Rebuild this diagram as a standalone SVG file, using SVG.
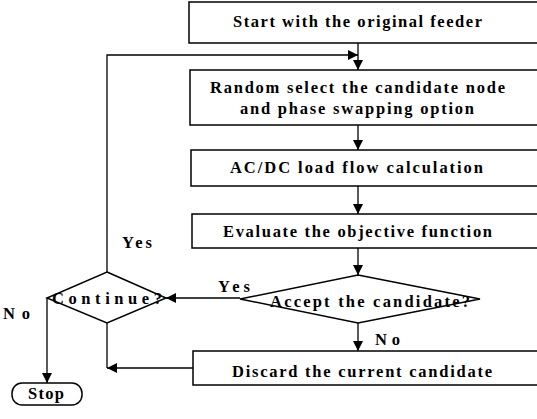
<svg xmlns="http://www.w3.org/2000/svg" width="537" height="419" viewBox="0 0 537 419">
<defs>
<style>
.box{fill:#fff;stroke:#000;stroke-width:1.5}
.ln{fill:none;stroke:#000;stroke-width:1.3}
.t{font-family:"Liberation Serif","Times New Roman",serif;font-size:16.5px;font-weight:bold;fill:#000}
</style>
<marker id="ah" viewBox="0 0 10 10" refX="10" refY="5" markerWidth="10" markerHeight="10" markerUnits="userSpaceOnUse" orient="auto">
<path d="M0,0 L10,5 L0,10 Z" fill="#000"/>
</marker>
</defs>
<rect width="537" height="419" fill="#fff"/>
<g id="connectors">
<path class="ln" d="M358,43 V70" marker-end="url(#ah)"/>
<path class="ln" d="M107,272 V55 H358" marker-end="url(#ah)"/>
<path class="ln" d="M358,125 V150" marker-end="url(#ah)"/>
<path class="ln" d="M358,186 V214" marker-end="url(#ah)"/>
<path class="ln" d="M358,248 V275" marker-end="url(#ah)"/>
<path class="ln" d="M240,298 H166" marker-end="url(#ah)"/>
<path class="ln" d="M358,323 V351" marker-end="url(#ah)"/>
<path class="ln" d="M47,298 V383" marker-end="url(#ah)"/>
<path class="ln" d="M107,323 V368"/>
<path class="ln" d="M193,368 H107" marker-end="url(#ah)"/>
<text class="t" x="122" y="248" textLength="30" lengthAdjust="spacing">Yes</text>
<text class="t" x="218" y="292" textLength="32" lengthAdjust="spacing">Yes</text>
<text class="t" x="3" y="319" textLength="27" lengthAdjust="spacing">No</text>
<text class="t" x="375" y="345" textLength="25" lengthAdjust="spacing">No</text>
</g>
<g id="start">
<rect class="box" x="189" y="2" width="360" height="41"/>
<text class="t" x="233" y="27" textLength="249" lengthAdjust="spacing">Start with the original feeder</text>
</g>
<g id="random">
<rect class="box" x="190" y="70" width="360" height="55"/>
<text class="t" x="210" y="93" textLength="295" lengthAdjust="spacing">Random select the candidate node</text>
<text class="t" x="240" y="114" textLength="234" lengthAdjust="spacing">and phase swapping option</text>
</g>
<g id="loadflow">
<rect class="box" x="191" y="150" width="360" height="36"/>
<text class="t" x="230" y="173" textLength="253" lengthAdjust="spacing">AC/DC load flow calculation</text>
</g>
<g id="evaluate">
<rect class="box" x="192" y="214" width="360" height="34"/>
<text class="t" x="223" y="237" textLength="269" lengthAdjust="spacing">Evaluate the objective function</text>
</g>
<g id="accept">
<polygon class="box" points="358,275 480,299 358,323 240,299"/>
<text class="t" x="270" y="307" textLength="200" lengthAdjust="spacing">Accept the candidate?</text>
</g>
<g id="continue">
<polygon class="box" points="107,272 166,298 107,323 47,298"/>
<text class="t" x="52" y="304" textLength="110" lengthAdjust="spacing">Continue?</text>
</g>
<g id="discard">
<rect class="box" x="193" y="351" width="360" height="34"/>
<text class="t" x="232" y="377" textLength="260" lengthAdjust="spacing">Discard the current candidate</text>
</g>
<g id="stop">
<rect class="box" x="12" y="383" width="70" height="22" rx="10" ry="10"/>
<text class="t" x="28" y="399" textLength="36" lengthAdjust="spacing">Stop</text>
</g>
</svg>
